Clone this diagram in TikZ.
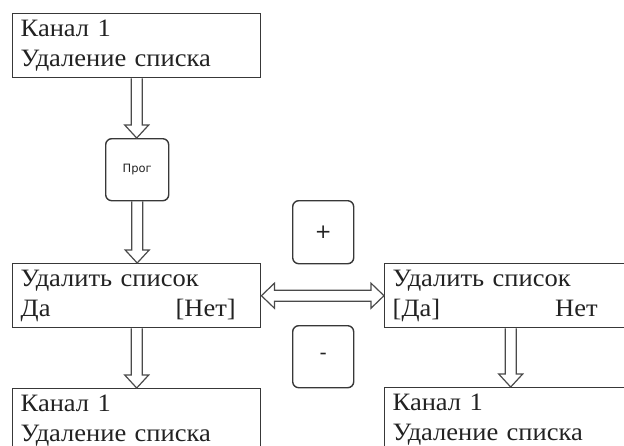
\documentclass[tikz,border=0pt]{standalone}
\usepackage{fontspec}
\setmainfont{Liberation Serif}[FakeStretch=1.06]
\newfontfamily\labelsans{DejaVu Sans}
\usepackage{xcolor}
\usetikzlibrary{calc, positioning}
\definecolor{linec}{HTML}{383838}
\definecolor{textc}{HTML}{222222}
\definecolor{arrowc}{HTML}{4A4A4A}

\begin{document}
\begin{tikzpicture}[
        x=1pt, y=-1pt,
        box/.style={draw=linec, line width=1.4pt, rectangle, anchor=north west,
            inner xsep=8pt, inner ysep=0pt, text width=232pt, minimum height=64pt,
            align=left, text=textc, font=\fontsize{25}{30}\selectfont},
        keybox/.style={draw=linec, line width=1.4pt, rounded corners=6pt, anchor=north west,
            minimum width=61pt, minimum height=62pt, text=textc},
        hollow/.style={draw=arrowc, line width=1.2pt, line join=miter}
    ]
        \useasboundingbox (0,0) rectangle (624,445);
        \clip (0,0) rectangle (624,445);

        \node[box] (kanal) at (12,13) {Канал 1\\Удаление списка};
        \node[keybox, minimum width=63pt] (prog) at (105,138) {\labelsans\fontsize{11.5}{13}\selectfont Прог};
        \node[box] (udalL) at (12,263) {Удалить список\\\makebox[215pt][l]{Да\hfill[Нет]}};
        \node[box, text width=236pt] (udalR) at (384,263) {Удалить список\\\makebox[205pt][l]{[Да]\hfill Нет}};
        \node[keybox, minimum height=63pt] (plus) at (292,200) {\labelsans\fontsize{20}{22}\selectfont +};
        \node[keybox] (minus) at (292,325) {\labelsans\fontsize{20}{22}\selectfont -};
        \node[box] (kanalL) at (12,388) {Канал 1\\Удаление списка};
        \node[box, text width=236pt] (kanalR) at (384,387) {Канал 1\\Удаление списка};

        \foreach \a/\b in {kanal/prog, prog/udalL, udalL/kanalL, udalR/kanalR}
            \draw[hollow] let \p1=(\a.south), \p2=(\b.north) in
                (\x1-5.5pt,\y1) -- (\x1-5.5pt,\y2+13pt) -- (\x1-12pt,\y2+13pt) -- (\x1,\y2)
                -- (\x1+12pt,\y2+13pt) -- (\x1+5.5pt,\y2+13pt) -- (\x1+5.5pt,\y1);

        \draw[hollow] let \p1=(udalL.east), \p2=(udalR.west) in
            (\x1,\y1) -- (\x1+13pt,\y1+12.5pt) -- (\x1+13pt,\y1+5.5pt) -- (\x2-13pt,\y1+5.5pt)
            -- (\x2-13pt,\y1+12.5pt) -- (\x2,\y1) -- (\x2-13pt,\y1-12.5pt) -- (\x2-13pt,\y1-5.5pt)
            -- (\x1+13pt,\y1-5.5pt) -- (\x1+13pt,\y1-12.5pt) -- cycle;
    \end{tikzpicture}
\end{document}
